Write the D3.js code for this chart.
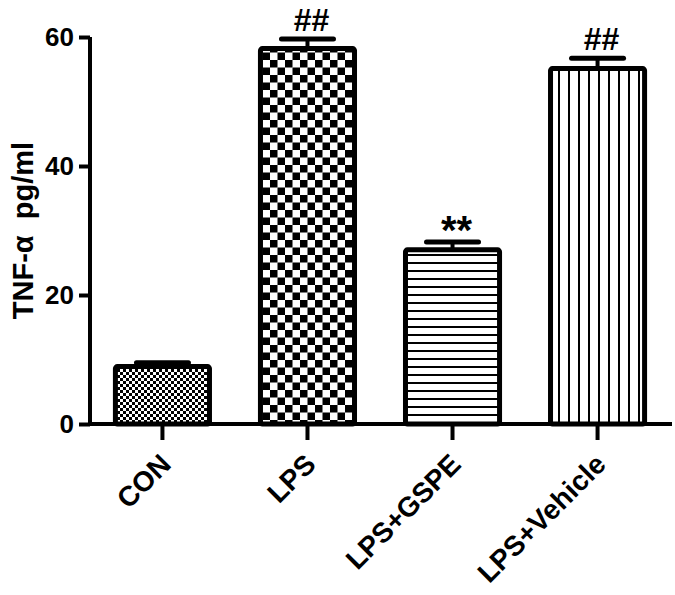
<!DOCTYPE html>
<html>
<head>
<meta charset="utf-8">
<script src="https://cdn.jsdelivr.net/npm/d3@7"></script>
<style>
  body { margin: 0; background: #fff; }
  svg { display: block; }
  text { font-family: "Liberation Sans", Arial, sans-serif; font-weight: bold; fill: #000; }
</style>
</head>
<body>
<div class="chart"></div>
<script>
var groups = ["CON", "LPS", "LPS+GSPE", "LPS+Vehicle"];
var means = [8.9, 58.2, 27.0, 55.1];
var errors = [0.6, 1.5, 1.2, 1.6];
var marks = ["", "##", "**", "##"];
var patterns = ["fineCheck", "bigCheck", "hLines", "vLines"];
var yTicks = [0, 20, 40, 60];

var width = 675,
    height = 595;

var svg = d3.select(".chart").append("svg")
    .attr("width", width)
    .attr("height", height);

var defs = svg.append("defs");

// small checkerboard
var p1 = defs.append("pattern").attr("id", "fineCheck")
    .attr("patternUnits", "userSpaceOnUse").attr("width", 6).attr("height", 6);
p1.append("rect").attr("width", 6).attr("height", 6).attr("fill", "#fff");
p1.append("rect").attr("width", 3).attr("height", 3).attr("fill", "#000");
p1.append("rect").attr("x", 3).attr("y", 3).attr("width", 3).attr("height", 3).attr("fill", "#000");

// large checkerboard
var p2 = defs.append("pattern").attr("id", "bigCheck")
    .attr("patternUnits", "userSpaceOnUse").attr("width", 15).attr("height", 15);
p2.append("rect").attr("width", 15).attr("height", 15).attr("fill", "#fff");
p2.append("rect").attr("width", 7.5).attr("height", 7.5).attr("fill", "#000");
p2.append("rect").attr("x", 7.5).attr("y", 7.5).attr("width", 7.5).attr("height", 7.5).attr("fill", "#000");

// horizontal lines
var p3 = defs.append("pattern").attr("id", "hLines")
    .attr("patternUnits", "userSpaceOnUse").attr("width", 8).attr("height", 8);
p3.append("rect").attr("width", 8).attr("height", 8).attr("fill", "#fff");
p3.append("rect").attr("y", 6).attr("width", 8).attr("height", 2).attr("fill", "#000");

// vertical lines
var p4 = defs.append("pattern").attr("id", "vLines")
    .attr("patternUnits", "userSpaceOnUse").attr("width", 10).attr("height", 10);
p4.append("rect").attr("width", 10).attr("height", 10).attr("fill", "#fff");
p4.append("rect").attr("x", 8).attr("width", 2).attr("height", 10).attr("fill", "#000");

var x = d3.scaleBand()
    .domain(groups)
    .range([90, 670])
    .paddingInner(0.317)
    .paddingOuter(0.158);

var y = d3.scaleLinear()
    .domain([0, 60])
    .range([424, 37]);

// error bars (upper only)
var capW = 52;
groups.forEach(function (g, i) {
  var cx = x(g) + x.bandwidth() / 2;
  svg.append("line")
      .attr("x1", cx).attr("x2", cx)
      .attr("y1", y(means[i])).attr("y2", y(means[i] + errors[i]))
      .attr("stroke", "#000").attr("stroke-width", 4);
  svg.append("line")
      .attr("x1", cx - capW / 2).attr("x2", cx + capW / 2)
      .attr("y1", y(means[i] + errors[i])).attr("y2", y(means[i] + errors[i]))
      .attr("stroke", "#000").attr("stroke-width", 5)
      .attr("stroke-linecap", "round");
});

// bars
svg.selectAll("rect.bar")
    .data(groups)
    .enter().append("rect")
    .attr("class", "bar")
    .attr("x", function (d) { return x(d) + 2.5; })
    .attr("y", function (d, i) { return y(means[i]); })
    .attr("width", x.bandwidth() - 5)
    .attr("height", function (d, i) { return y(0) - y(means[i]); })
    .attr("rx", 2)
    .style("fill", function (d, i) { return "url(#" + patterns[i] + ")"; })
    .attr("stroke", "#000")
    .attr("stroke-width", 5)
    .attr("stroke-linejoin", "round");

// significance marks
svg.selectAll("text.mark")
    .data(groups)
    .enter().append("text")
    .attr("class", "mark")
    .attr("x", function (d) { return x(d) + x.bandwidth() / 2 + 4; })
    .attr("y", function (d, i) {
      return y(means[i] + errors[i]) - (marks[i] === "**" ? -2 : 8);
    })
    .attr("text-anchor", "middle")
    .style("font-size", function (d, i) { return marks[i] === "**" ? "40px" : "32px"; })
    .text(function (d, i) { return marks[i]; });

// y axis
var yAxis = svg.append("g")
    .attr("transform", "translate(90,0)")
    .call(d3.axisLeft(y).tickValues(yTicks).tickSize(11).tickPadding(5));
yAxis.select(".domain").attr("stroke-width", 4).attr("d", "M0," + y(60) + "V" + y(0));
yAxis.selectAll(".tick line").attr("stroke-width", 4);
yAxis.selectAll(".tick text")
    .style("font-size", "26px")
    .style("font-family", "Liberation Sans, Arial, sans-serif")
    .style("font-weight", "bold")
    .attr("fill", "#000");

// x axis
var xAxis = svg.append("g")
    .attr("transform", "translate(0," + y(0) + ")")
    .call(d3.axisBottom(x).tickSize(16).tickFormat(""));
xAxis.select(".domain").attr("stroke-width", 4).attr("d", "M88,0H672");
xAxis.selectAll(".tick line").attr("stroke-width", 4);

// x labels rotated
svg.selectAll("text.xlab")
    .data(groups)
    .enter().append("text")
    .attr("class", "xlab")
    .attr("text-anchor", "end")
    .style("font-size", "28px")
    .attr("transform", function (d) {
      var cx = x(d) + x.bandwidth() / 2;
      return "translate(" + (cx + 10) + "," + 466 + ") rotate(-45)";
    })
    .text(function (d) { return d; });

// y axis title
svg.append("text")
    .attr("transform", "translate(33," + ((y(0) + y(60)) / 2) + ") rotate(-90)")
    .attr("text-anchor", "middle")
    .style("font-size", "29px")
    .text("TNF-\u03b1\u00a0\u00a0pg/ml");
</script>
</body>
</html>
